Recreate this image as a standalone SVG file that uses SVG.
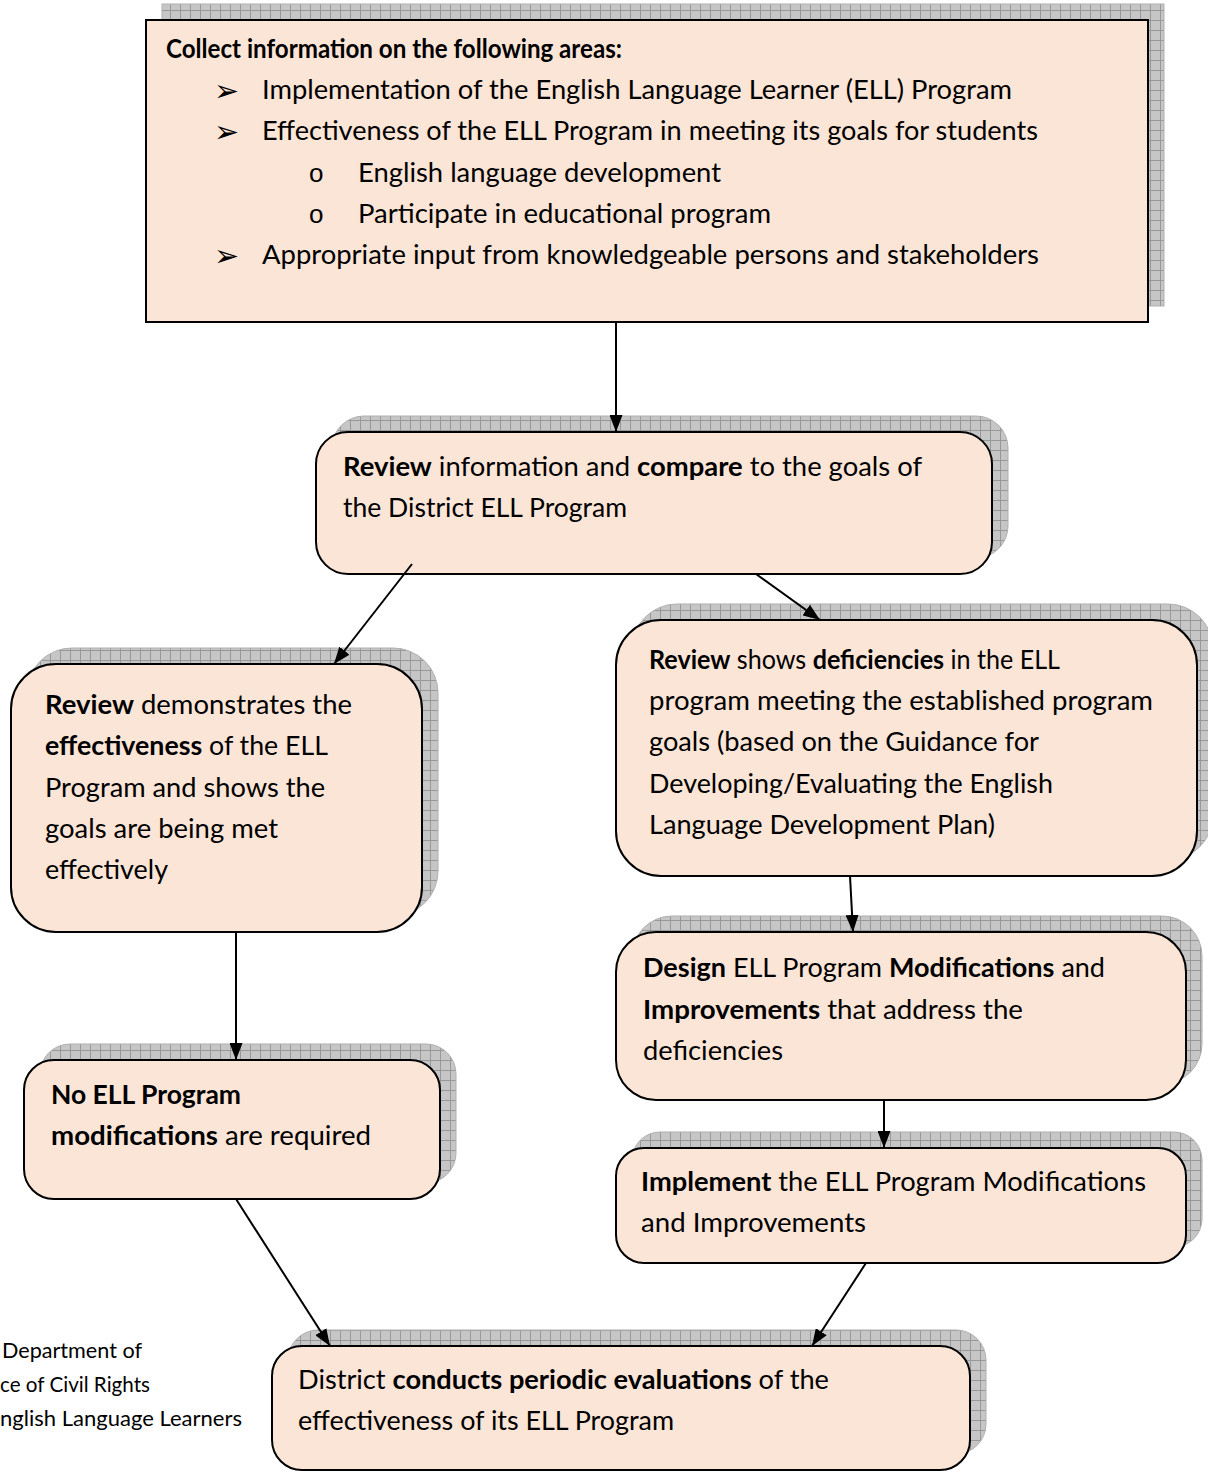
<svg xmlns="http://www.w3.org/2000/svg" width="1208" height="1471" viewBox="0 0 1208 1471">
<style>
.box{fill:#FBE5D6;stroke:#000;stroke-width:2}
.sh{fill:url(#grid);stroke:#b0b0b0;stroke-width:1}
.t{font-family:Lato,"Open Sans","Liberation Sans",sans-serif;font-size:26.5px;fill:#000}
.b{font-weight:bold}
.ft{font-family:Lato,"Open Sans","Liberation Sans",sans-serif;font-size:22px;fill:#000}
.bul{font-family:"DejaVu Sans",sans-serif;font-size:30px;fill:#000}
.ob{font-family:"Liberation Sans",sans-serif;font-size:26px;fill:#000}
.c{stroke:#000;stroke-width:2;fill:none;marker-end:url(#ah)}
</style>
<defs>
<pattern id="grid" width="10" height="10" patternUnits="userSpaceOnUse">
<rect width="10" height="10" fill="#c6c6c6"/>
<path d="M0,0.5H10M0.5,0V10" stroke="#989898" stroke-width="1"/>
</pattern>
<marker id="ah" markerWidth="17" markerHeight="13" refX="17" refY="6.5" orient="auto" markerUnits="userSpaceOnUse">
<path d="M0,0L17,6.5L0,13z" fill="#000"/>
</marker>
</defs>
<rect width="1208" height="1471" fill="#fff"/>

<g id="collect">
<rect class="sh" x="162" y="4" width="1002" height="302"/>
<rect class="box" x="146" y="20" width="1002" height="302"/>
<text class="t b" x="166" y="58" textLength="456" lengthAdjust="spacingAndGlyphs">Collect information on the following areas:</text>
<text class="bul" x="214" y="101">➢</text>
<text class="t" x="262" y="99" textLength="750" lengthAdjust="spacingAndGlyphs">Implementation of the English Language Learner (ELL) Program</text>
<text class="bul" x="214" y="142">➢</text>
<text class="t" x="262" y="140" textLength="776" lengthAdjust="spacingAndGlyphs">Effectiveness of the ELL Program in meeting its goals for students</text>
<text class="ob" x="309" y="182">o</text>
<text class="t" x="358" y="182" textLength="363" lengthAdjust="spacingAndGlyphs">English language development</text>
<text class="ob" x="309" y="223">o</text>
<text class="t" x="358" y="223" textLength="413" lengthAdjust="spacingAndGlyphs">Participate in educational program</text>
<text class="bul" x="214" y="266">➢</text>
<text class="t" x="262" y="264" textLength="777" lengthAdjust="spacingAndGlyphs">Appropriate input from knowledgeable persons and stakeholders</text>
</g>

<g id="review">
<rect class="sh" x="332" y="416" width="676" height="142" rx="32"/>
<rect class="box" x="316" y="432" width="676" height="142" rx="32"/>
<text class="t" x="343" y="476" textLength="579" lengthAdjust="spacingAndGlyphs"><tspan class="b">Review</tspan> information and <tspan class="b">compare</tspan> to the goals of</text>
<text class="t" x="343" y="517" textLength="284" lengthAdjust="spacingAndGlyphs">the District ELL Program</text>
</g>

<g id="effective">
<rect class="sh" x="27" y="648" width="411" height="268" rx="45"/>
<rect class="box" x="11" y="664" width="411" height="268" rx="45"/>
<text class="t" x="45" y="714" textLength="307" lengthAdjust="spacingAndGlyphs"><tspan class="b">Review</tspan> demonstrates the</text>
<text class="t" x="45" y="755" textLength="283" lengthAdjust="spacingAndGlyphs"><tspan class="b">effectiveness</tspan> of the ELL</text>
<text class="t" x="45" y="797" textLength="280" lengthAdjust="spacingAndGlyphs">Program and shows the</text>
<text class="t" x="45" y="838" textLength="233" lengthAdjust="spacingAndGlyphs">goals are being met</text>
<text class="t" x="45" y="879" textLength="123" lengthAdjust="spacingAndGlyphs">effectively</text>
</g>

<g id="deficient">
<rect class="sh" x="632" y="604" width="581" height="256" rx="45"/>
<rect class="box" x="616" y="620" width="581" height="256" rx="45"/>
<text class="t" x="649" y="669" textLength="411" lengthAdjust="spacingAndGlyphs"><tspan class="b">Review</tspan> shows <tspan class="b">deficiencies</tspan> in the ELL</text>
<text class="t" x="649" y="710" textLength="504" lengthAdjust="spacingAndGlyphs">program meeting the established program</text>
<text class="t" x="649" y="751" textLength="390" lengthAdjust="spacingAndGlyphs">goals (based on the Guidance for</text>
<text class="t" x="649" y="793" textLength="404" lengthAdjust="spacingAndGlyphs">Developing/Evaluating the English</text>
<text class="t" x="649" y="834" textLength="346" lengthAdjust="spacingAndGlyphs">Language Development Plan)</text>
</g>

<g id="design">
<rect class="sh" x="632" y="916" width="570" height="168" rx="40"/>
<rect class="box" x="616" y="932" width="570" height="168" rx="40"/>
<text class="t" x="643" y="977" textLength="462" lengthAdjust="spacingAndGlyphs"><tspan class="b">Design</tspan> ELL Program <tspan class="b">Modifications</tspan> and</text>
<text class="t" x="643" y="1019" textLength="380" lengthAdjust="spacingAndGlyphs"><tspan class="b">Improvements</tspan> that address the</text>
<text class="t" x="643" y="1060" textLength="140" lengthAdjust="spacingAndGlyphs">deficiencies</text>
</g>

<g id="nomod">
<rect class="sh" x="40" y="1044" width="416" height="139" rx="30"/>
<rect class="box" x="24" y="1060" width="416" height="139" rx="30"/>
<text class="t b" x="51" y="1104" textLength="190" lengthAdjust="spacingAndGlyphs">No ELL Program</text>
<text class="t" x="51" y="1145" textLength="320" lengthAdjust="spacingAndGlyphs"><tspan class="b">modifications</tspan> are required</text>
</g>

<g id="implement">
<rect class="sh" x="632" y="1132" width="570" height="115" rx="28"/>
<rect class="box" x="616" y="1148" width="570" height="115" rx="28"/>
<text class="t" x="641" y="1191" textLength="505" lengthAdjust="spacingAndGlyphs"><tspan class="b">Implement</tspan> the ELL Program Modifications</text>
<text class="t" x="641" y="1232" textLength="225" lengthAdjust="spacingAndGlyphs">and Improvements</text>
</g>

<g id="periodic">
<rect class="sh" x="288" y="1330" width="698" height="124" rx="30"/>
<rect class="box" x="272" y="1346" width="698" height="124" rx="30"/>
<text class="t" x="298" y="1389" textLength="531" lengthAdjust="spacingAndGlyphs">District <tspan class="b">conducts periodic evaluations</tspan> of the</text>
<text class="t" x="298" y="1430" textLength="376" lengthAdjust="spacingAndGlyphs">effectiveness of its ELL Program</text>
</g>

<g id="footer">
<text class="ft" x="2" y="1358" textLength="140" lengthAdjust="spacingAndGlyphs">Department of</text>
<text class="ft" x="0" y="1392" textLength="150" lengthAdjust="spacingAndGlyphs">ce of Civil Rights</text>
<text class="ft" x="0" y="1426" textLength="242" lengthAdjust="spacingAndGlyphs">nglish Language Learners</text>
</g>

<g id="connectors">
<line class="c" x1="616" y1="322" x2="616" y2="432"/>
<line class="c" x1="412" y1="564" x2="334" y2="664"/>
<line class="c" x1="756" y1="574" x2="820" y2="620"/>
<line class="c" x1="850" y1="876" x2="853" y2="932"/>
<line class="c" x1="884" y1="1100" x2="884" y2="1148"/>
<line class="c" x1="236" y1="932" x2="236" y2="1060"/>
<line class="c" x1="236" y1="1199" x2="330" y2="1346"/>
<line class="c" x1="866" y1="1263" x2="812" y2="1346"/>
</g>
</svg>
